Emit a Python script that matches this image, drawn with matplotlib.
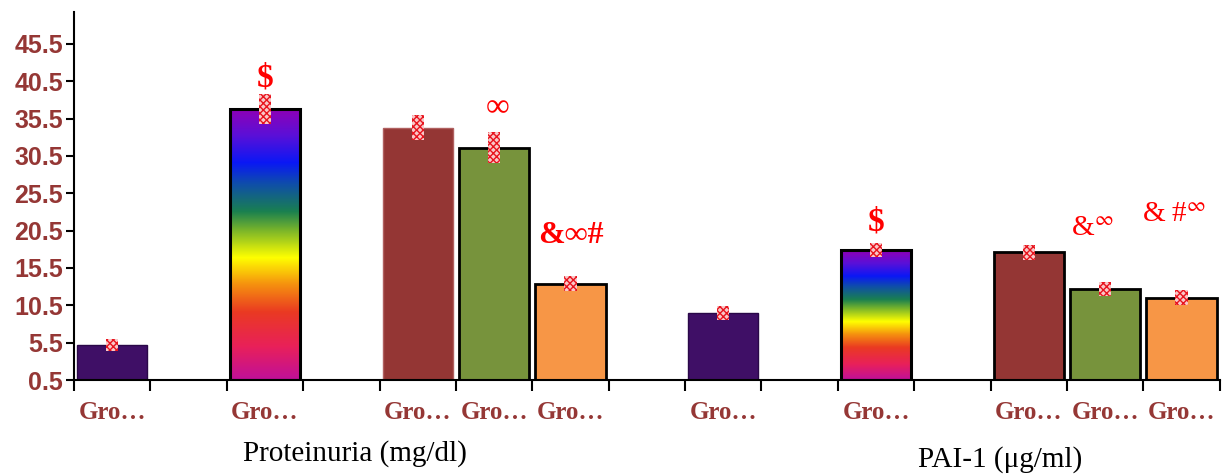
import matplotlib
matplotlib.use('Agg')
import matplotlib.pyplot as plt
import matplotlib.transforms as mtransforms
from matplotlib.colors import LinearSegmentedColormap
import numpy as np

# 数据
slot_labels = ['Gro…', '', 'Gro…', '', 'Gro…', 'Gro…', 'Gro…', '',
               'Gro…', '', 'Gro…', '', 'Gro…', 'Gro…', 'Gro…']
values = [5.2, np.nan, 36.8, np.nan, 34.3, 31.6, 13.4, np.nan,
          9.5, np.nan, 17.9, np.nan, 17.6, 12.7, 11.5]
errors = [0.8, np.nan, 2.0, np.nan, 1.7, 2.1, 1.0, np.nan,
          0.9, np.nan, 0.9, np.nan, 1.0, 0.9, 1.0]
styles = ['purple', None, 'rainbow', None, 'brown', 'green', 'orange', None,
          'purple', None, 'rainbow', None, 'brown', 'green', 'orange']
marks = {2: '$', 5: '∞', 6: '&∞#', 10: '$', 13: '&$^{\\infty}$', 14: '& #$^{\\infty}$'}
mark_y = {2: 41.0, 5: 36.9, 6: 19.9, 10: 21.6, 13: 20.7, 14: 22.6}
mark_dx = {2: 0.0, 5: 0.05, 6: 0.0, 10: 0.0, 13: -0.17, 14: -0.1}
mark_size = {2: 24, 5: 24, 6: 23, 10: 24, 13: 21, 14: 21}
groups = ['Proteinuria (mg/dl)', 'PAI-1 (μg/ml)']
group_x = [3.18, 11.62]
yticks = np.arange(0.5, 46, 5)

C_TXT = '#953735'
colors = {'purple': '#3f0f66', 'brown': '#943634', 'green': '#77933c', 'orange': '#f79646'}
rainbow = LinearSegmentedColormap.from_list('rb', [
    (0.0, '#c0109a'), (0.12, '#e8205a'), (0.25, '#ea3a22'), (0.35, '#f5900f'),
    (0.45, '#ffff00'), (0.55, '#7ab52a'), (0.62, '#1a8050'), (0.72, '#0f4fa8'),
    (0.80, '#0a18f5'), (0.90, '#5a10d8'), (1.0, '#9000b5')])

plt.rcParams['mathtext.fontset'] = 'stix'
fig = plt.figure(figsize=(12.24, 4.75), dpi=100)
ax = fig.add_axes([0.0605, 0.2, 0.936, 0.775])
ymin, ymax = 0.5, 49.8
ax.set_xlim(-0.5, 14.5)
ax.set_ylim(ymin, ymax)

x = np.arange(len(values))
w = 0.92
for i, (v, e, s) in enumerate(zip(values, errors, styles)):
    if s is None:
        continue
    if s == 'rainbow':
        b = ax.bar(i, v - ymin, bottom=ymin, width=w, facecolor='none',
                   edgecolor='black', linewidth=2.2, zorder=3)[0]
        grad = np.linspace(0, 1, 256).reshape(-1, 1)
        im = ax.imshow(grad, cmap=rainbow, origin='lower', aspect='auto',
                       extent=(i - w / 2, i + w / 2, ymin, v), zorder=2)
        im.set_clip_path(b)
    else:
        ec = 'black'
        lw = 2.0
        if s == 'purple':
            ec, lw = '#2a0848', 1.0
        if s == 'brown' and i < 7:
            ec, lw = '#b06060', 1.0
        ax.bar(i, v - ymin, bottom=ymin, width=w, color=colors[s],
               edgecolor=ec, linewidth=lw, zorder=2)
    # 误差棒 (格子纹)
    ax.bar(i, 2 * e, bottom=v - e, width=0.16, facecolor='#f9c8c8',
           edgecolor='#e8141e', linewidth=0, hatch='xxxxx', zorder=4)

ax.set_xlim(-0.5, 14.5)
ax.set_ylim(ymin, ymax)

for k, t in marks.items():
    ax.text(k + mark_dx[k], mark_y[k], t, ha='center', va='center', color='red',
            fontsize=mark_size[k], fontweight='bold' if t in ('$', '&∞#') else 'normal',
            family='Liberation Serif')

# 轴
ax.spines['top'].set_visible(False)
ax.spines['right'].set_visible(False)
ax.spines['left'].set_linewidth(1.5)
ax.spines['bottom'].set_linewidth(1.5)
ax.spines['left'].set_bounds(ymin, ymax)

ax.set_yticks(yticks)
ax.set_yticklabels([f'{t:.1f}' for t in yticks], color=C_TXT, fontsize=18,
                   fontweight='bold', family='Liberation Sans')
ax.tick_params(axis='y', direction='out', length=6, width=1.5, pad=2)

ax.set_xticks(np.arange(-0.5, 15, 1), minor=True)
ax.set_xticks(x)
ax.set_xticklabels(slot_labels, color=C_TXT, fontsize=18, fontweight='bold',
                   family='Liberation Serif')
ax.tick_params(axis='x', which='major', length=0, pad=15)
ax.tick_params(axis='x', which='minor', direction='out', length=8, width=1.5)

trans = mtransforms.blended_transform_factory(ax.transData, ax.transAxes)
group_y = [-0.2, -0.215]
for gx, gy, g in zip(group_x, group_y, groups):
    ax.text(gx, gy, g, transform=trans, ha='center', va='center',
            fontsize=21, family='Liberation Serif', color='black')

fig.savefig('out.png', dpi=100, facecolor='white')
